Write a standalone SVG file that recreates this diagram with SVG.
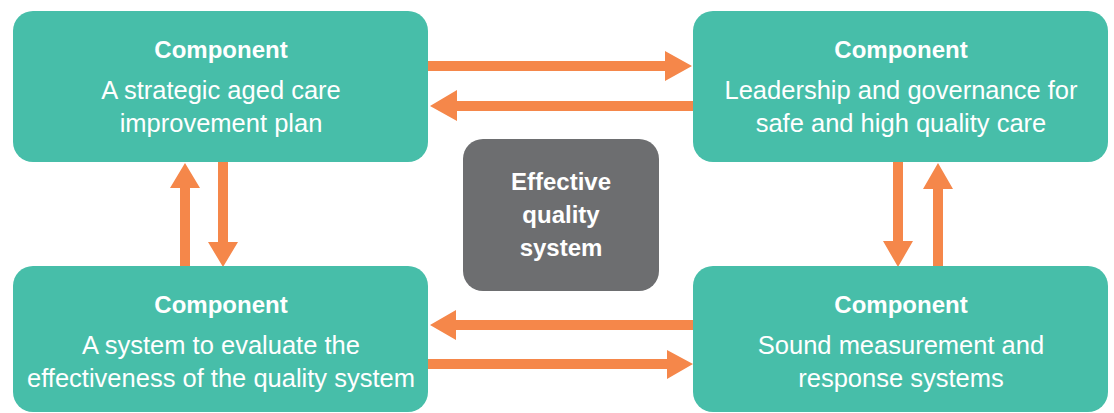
<svg xmlns="http://www.w3.org/2000/svg" width="1114" height="413" viewBox="0 0 1114 413">
<style>
.node{fill:#47bea9}
.center{fill:#6d6e70}
.t{font-family:"Liberation Sans",Arial,sans-serif;fill:#ffffff;text-anchor:middle}
.h{font-weight:bold;font-size:24px}
.b{font-size:25.5px}
.c{font-weight:bold;font-size:24px}
.arr{fill:#f5874a}
</style>
<rect width="1114" height="413" fill="#ffffff"/>
<g id="connectors">
<polygon class="arr" points="428,61 665,61 665,51 692,66 665,81 665,71 428,71"/>
<polygon class="arr" points="693,101 457,101 457,90 430,106 457,121 457,111 693,111"/>
<polygon class="arr" points="180,266 180,188 170,188 185,163 200,188 190,188 190,266"/>
<polygon class="arr" points="218,162 218,242 208,242 223,267 238,242 228,242 228,162"/>
<polygon class="arr" points="893,162 893,241 883,241 898,267 913,241 903,241 903,162"/>
<polygon class="arr" points="933,266 933,189 923,189 938,163 953,189 943,189 943,266"/>
<polygon class="arr" points="693,320 456,320 456,310 430,325 456,340 456,330 693,330"/>
<polygon class="arr" points="428,359 667,359 667,350 693,364 667,379 667,369 428,369"/>
</g>
<g id="node-plan">
<rect class="node" x="13" y="11" width="415" height="151" rx="20"/>
<text class="t h" x="221" y="58">Component</text>
<text class="t b" x="221" y="99">A strategic aged care</text>
<text class="t b" x="221" y="132">improvement plan</text>
</g>
<g id="node-leadership">
<rect class="node" x="693" y="11" width="415" height="151" rx="20"/>
<text class="t h" x="901" y="58">Component</text>
<text class="t b" x="901" y="99">Leadership and governance for</text>
<text class="t b" x="901" y="132">safe and high quality care</text>
</g>
<g id="node-evaluate">
<rect class="node" x="13" y="266" width="415" height="146" rx="20"/>
<text class="t h" x="221" y="313">Component</text>
<text class="t b" x="221" y="354">A system to evaluate the</text>
<text class="t b" x="221" y="387">effectiveness of the quality system</text>
</g>
<g id="node-measurement">
<rect class="node" x="693" y="266" width="415" height="146" rx="20"/>
<text class="t h" x="901" y="313">Component</text>
<text class="t b" x="901" y="354">Sound measurement and</text>
<text class="t b" x="901" y="387">response systems</text>
</g>
<g id="node-center">
<rect class="center" x="463" y="139" width="196" height="152" rx="20"/>
<text class="t c" x="561" y="190">Effective</text>
<text class="t c" x="561" y="223">quality</text>
<text class="t c" x="561" y="256">system</text>
</g>
</svg>
